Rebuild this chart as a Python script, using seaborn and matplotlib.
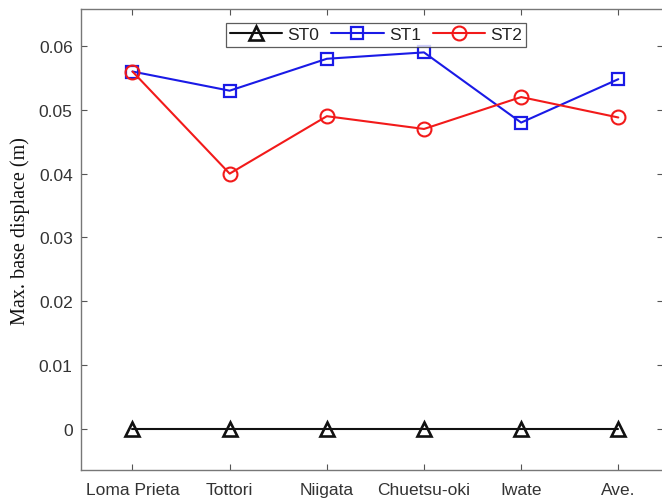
import matplotlib
matplotlib.use("Agg")
import matplotlib.pyplot as plt
import seaborn as sns
import pandas as pd

events = ["Loma Prieta", "Tottori", "Niigata", "Chuetsu-oki", "Iwate", "Ave."]
st0 = [0.0, 0.0, 0.0, 0.0, 0.0, 0.0]
st1 = [0.056, 0.053, 0.058, 0.059, 0.048, 0.0548]
st2 = [0.056, 0.040, 0.049, 0.047, 0.052, 0.0488]
yticks = [0, 0.01, 0.02, 0.03, 0.04, 0.05, 0.06]
ytick_labels = ["0", "0.01", "0.02", "0.03", "0.04", "0.05", "0.06"]

sns.set_theme(style="white")
plt.rcParams["font.family"] = ["Liberation Sans", "DejaVu Sans"]

df = pd.DataFrame({
    "pos": list(range(len(events))) * 3,
    "value": st0 + st1 + st2,
    "series": ["ST0"] * 6 + ["ST1"] * 6 + ["ST2"] * 6,
})

fig = plt.figure(figsize=(6.62, 5.02), dpi=100)
ax = fig.add_axes([81 / 662, 31.3 / 502, 582 / 662, 460.7 / 502])

styles = {
    "ST0": dict(color="#111111", marker="^", ms=10, mew=1.9),
    "ST1": dict(color="#1a1ae6", marker="s", ms=8, mew=1.6),
    "ST2": dict(color="#f21a1a", marker="o", ms=10, mew=1.5),
}
for name in ["ST0", "ST1", "ST2"]:
    st = styles[name]
    sub = df[df["series"] == name]
    sns.lineplot(data=sub, x="pos", y="value", ax=ax, color=st["color"],
                 marker=st["marker"], markersize=st["ms"], markerfacecolor="none",
                 markeredgecolor=st["color"], markeredgewidth=st["mew"],
                 linewidth=1.5, label=name)

ax.set_xlim(-0.53, 5.46)
ax.set_ylim(-0.0064, 0.0658)
ax.set_xticks(range(len(events)))
ax.set_xticklabels(events)
ax.set_yticks(yticks)
ax.set_yticklabels(ytick_labels)
ax.set_xlabel("")
ax.set_ylabel("Max. base displace (m)", family="Liberation Serif", fontsize=14.5,
              color="#111111", labelpad=6)
ax.yaxis.set_label_coords(-0.087, 0.52)

ax.tick_params(axis="both", direction="in", length=4, width=0.8, colors="#555555",
               labelcolor="#333333", labelsize=12.5, top=True, right=True,
               bottom=True, left=True)
ax.tick_params(axis="x", pad=9)
ax.tick_params(axis="y", pad=6)
for side in ["left", "bottom", "top"]:
    ax.spines[side].set_visible(True)
    ax.spines[side].set_color("#777777")
    ax.spines[side].set_linewidth(1.0)
ax.spines["right"].set_visible(False)

leg = ax.legend(loc="upper center", bbox_to_anchor=(0.507, 0.970), ncol=3,
                frameon=True, fancybox=False, fontsize=12.5, handlelength=3.0,
                handletextpad=0.3, columnspacing=0.7, borderpad=0.25,
                borderaxespad=0.0)
leg.get_frame().set_edgecolor("#333333")
leg.get_frame().set_linewidth(0.9)
for t in leg.get_texts():
    t.set_color("#222222")

fig.savefig("out.png", dpi=100)
